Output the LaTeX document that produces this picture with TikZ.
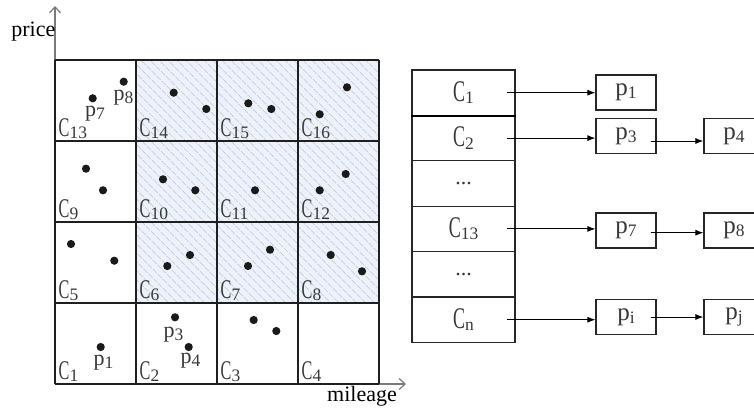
\documentclass[tikz,border=0pt]{standalone}
\usepackage{fontspec}
\setmainfont{Liberation Serif}
\newfontfamily\narrowserif[FakeStretch=0.6]{Liberation Serif}
\usetikzlibrary{arrows.meta,patterns.meta}

\definecolor{labelgray}{HTML}{383838}
\definecolor{axisgray}{HTML}{7A7A7A}
\definecolor{hatchbg}{HTML}{EDF2FA}
\definecolor{hatchline}{HTML}{C6D0E1}
\definecolor{dotblack}{HTML}{1A1A1A}

% cell names: narrow capital C with a slightly lowered index
\newcommand\cellname[2][27]{{\narrowserif\fontsize{#1}{#1}\selectfont C}\raisebox{-2.5pt}{\fontsize{17.5}{17.5}\selectfont #2}}
% point names: p with a lowered index
\newcommand\ptname[2][22]{{\fontsize{#1}{#1}\selectfont p}\raisebox{-3pt}{\fontsize{17.5}{17.5}\selectfont #2}}

\tikzset{
  gridline/.style={draw=black!88, line width=1.1pt},
  axisline/.style={draw=axisgray, line width=1.2pt, -{Straight Barb[length=6pt,width=11pt]}},
  celllabel/.style={anchor=base west, inner sep=0pt, text=labelgray},
  ptlabel/.style={anchor=base west, inner sep=0pt, text=labelgray},
  dot/.style={fill=dotblack},
  rowbox/.style={draw=black!85, line width=1.1pt, minimum width=103pt, minimum height=45.4pt, inner sep=0pt, text=labelgray},
  pbox/.style={draw=black!85, line width=1.1pt, minimum width=60pt, minimum height=35pt, inner sep=0pt, text=labelgray},
  link/.style={draw=black, line width=1pt, -{Latex[length=8pt,width=6pt]}},
}

\begin{document}
\begin{tikzpicture}[x=1pt, y=-1pt]
\useasboundingbox (0,0) rectangle (754,409);
\clip (0,0) rectangle (754,409);

% shaded block of cells (columns 2-4, rows 2-4)
\fill[hatchbg] (136,60) rectangle (379,303);
\fill[pattern={Lines[angle=-45,distance=6.5pt,line width=0.8pt]}, pattern color=hatchline] (136,60) rectangle (379,303);

% axes
\coordinate (origin) at (55,384);
\coordinate (ytip) at (55,6);
\coordinate (xtip) at (406,384);
\draw[axisline] (origin) -- (ytip);
\draw[axisline] (origin) -- (xtip);
\node[anchor=base east, inner sep=0pt, font=\fontsize{22}{22}\selectfont] (ylab) at (55.5,36.5) {price};
\node[anchor=base west, inner sep=0pt, font=\fontsize{22}{22}\selectfont] (xlab) at (327,401) {mileage};

% 4x4 grid
\foreach \i in {0,...,4} {
  \draw[gridline] (55+81*\i,60) -- (55+81*\i,384);
  \draw[gridline] (55,60+81*\i) -- (379,60+81*\i);
}

% cell labels, numbered row by row from the bottom left
\foreach \k in {1,...,16} {
  \pgfmathtruncatemacro\col{mod(\k-1,4)}
  \pgfmathtruncatemacro\row{div(\k-1,4)}
  \node[celllabel] (cell\k) at (58.5+81*\col, 379-81*\row) {\cellname{\k}};
}

% data points
\foreach \px/\py in {
  92.7/98.3, 123.7/81.7,
  173.7/92.7, 206.3/109,
  248.3/103.3, 271.3/109,
  347/87.3, 319.7/114.3,
  86/168.7, 103/190.3,
  163/179.3, 195.3/190.3,
  255/190.3,
  345.7/174, 319.7/190.3,
  71/244, 114.3/260.7,
  167.3/266, 190/255,
  248/266, 270/249.7,
  330.7/255, 362/271.3,
  100.7/347,
  175/317.3, 188.7/347,
  253.7/320, 276.3/331}
  \fill[dot] (\px,\py) circle (4.1pt);

% point names inside the grid
\node[ptlabel] (lp7) at (85,117) {\ptname{7}};
\node[ptlabel] (lp8) at (113.5,100) {\ptname{8}};
\node[ptlabel] (lp1) at (93.5,365) {\ptname{1}};
\node[ptlabel] (lp3) at (163.5,337) {\ptname{3}};
\node[ptlabel] (lp4) at (180.5,363.5) {\ptname{4}};

% cell table
\node[rowbox] (t1) at (463.5,92.7)  {\cellname[30]{1}};
\node[rowbox] (t2) at (463.5,138.1) {\cellname[30]{2}};
\node[rowbox, font=\fontsize{22}{22}\selectfont] (t3) at (463.5,183.5) {...};
\node[rowbox] (t4) at (463.5,228.9) {\cellname[30]{13}};
\node[rowbox, font=\fontsize{22}{22}\selectfont] (t5) at (463.5,274.3) {...};
\node[rowbox] (t6) at (463.5,319.7) {\cellname[30]{n}};
\draw[black, line width=1.8pt] (t1.south west) -- (t1.south east);

% point lists
\node[pbox] (b1) at (626,92.5)  {\ptname[25]{1}};
\node[pbox] (b3) at (626,136.3) {\ptname[25]{3}};
\node[pbox] (b4) at (734,136.3) {\ptname[25]{4}};
\node[pbox] (b7) at (626,230.5) {\ptname[25]{7}};
\node[pbox] (b8) at (734,230.5) {\ptname[25]{8}};
\node[pbox] (bi) at (626,317)   {\ptname[25]{i}};
\node[pbox] (bj) at (734,317)   {\ptname[25]{j}};

% links from cells to their first point and between points
\draw[link] ([xshift=-9pt]t1.east) -- (t1.east -| b1.west);
\draw[link] ([xshift=-9pt]t2.east) -- (t2.east -| b3.west);
\draw[link] ([xshift=-9pt]t4.east) -- (t4.east -| b7.west);
\draw[link] ([xshift=-9pt]t6.east) -- (t6.east -| bi.west);
\draw[link] ([xshift=-6pt,yshift=-4.7pt]b3.east) -- ([yshift=-4.7pt]b4.west);
\draw[link] ([xshift=-6pt,yshift=-2.2pt]b7.east) -- ([yshift=-2.2pt]b8.west);
\draw[link] ([xshift=-6pt]bi.east) -- (bj.west);
\end{tikzpicture}
\end{document}
